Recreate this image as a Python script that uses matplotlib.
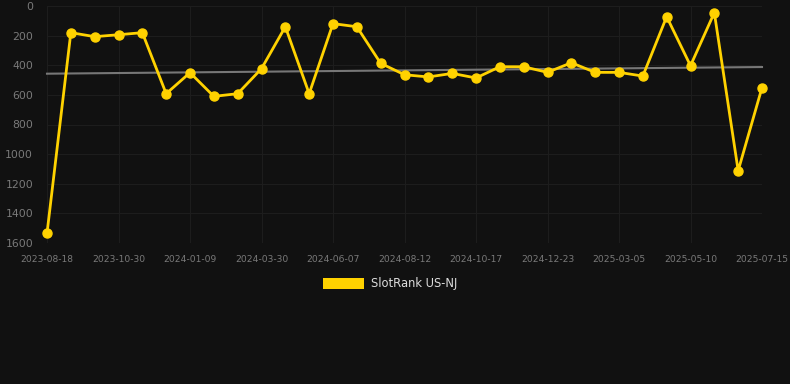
import numpy as np
import matplotlib.pyplot as plt
from matplotlib.patches import Patch

# rank values, one per sample (lower is better, axis is inverted)
ranks = [1535, 180, 207, 194, 180, 592, 450, 610, 592, 423,
         140, 592, 119, 140, 387, 464, 479, 455, 486, 410,
         410, 448, 383, 448, 448, 473, 72, 403, 45, 1112, 551]

# dates shown on the x axis (every third sample)
tick_dates = ["2023-08-18", "2023-10-30", "2024-01-09", "2024-03-30",
              "2024-06-07", "2024-08-12", "2024-10-17", "2024-12-23",
              "2025-03-05", "2025-05-10", "2025-07-15"]

# trend line ends as drawn in the chart
trend_ends = [457, 412]

series_name = "SlotRank US-NJ"

BG = "#111111"
YELLOW = "#FFD200"

fig = plt.figure(figsize=(7.9, 3.84), dpi=100, facecolor=BG)
ax = fig.add_axes([47 / 790, 1 - 243 / 384, (762 - 47) / 790, (243 - 6) / 384])
ax.set_facecolor(BG)

x = np.arange(len(ranks))
ax.plot([x[0], x[-1]], trend_ends, color="#777777", linewidth=1.5, clip_on=False, zorder=2)
ax.plot(x, ranks, color=YELLOW, linewidth=2, marker="o", markersize=6.5,
        clip_on=False, zorder=3)

ax.set_xlim(0, len(ranks) - 1)
ax.set_ylim(1600, 0)
ax.set_yticks(range(0, 1601, 200))
ax.set_xticks(x[::3])
ax.set_xticklabels(tick_dates)

ax.tick_params(axis="y", labelcolor="#7a7a7a", labelsize=7.8, length=0, pad=10)
ax.tick_params(axis="x", labelcolor="#7a7a7a", labelsize=6.6, length=0, pad=9)

ax.grid(True, color="#1d1d1d", linewidth=0.8)
for s in ax.spines.values():
    s.set_visible(False)

fig.legend(handles=[Patch(facecolor=YELLOW, label=series_name)],
           loc="center", bbox_to_anchor=(390 / 790, 1 - 284 / 384),
           frameon=False, fontsize=8.3, labelcolor="#dddddd",
           handlelength=3.6, handleheight=1.1, handletextpad=0.6)

fig.savefig("out.png", dpi=100, facecolor=BG)
